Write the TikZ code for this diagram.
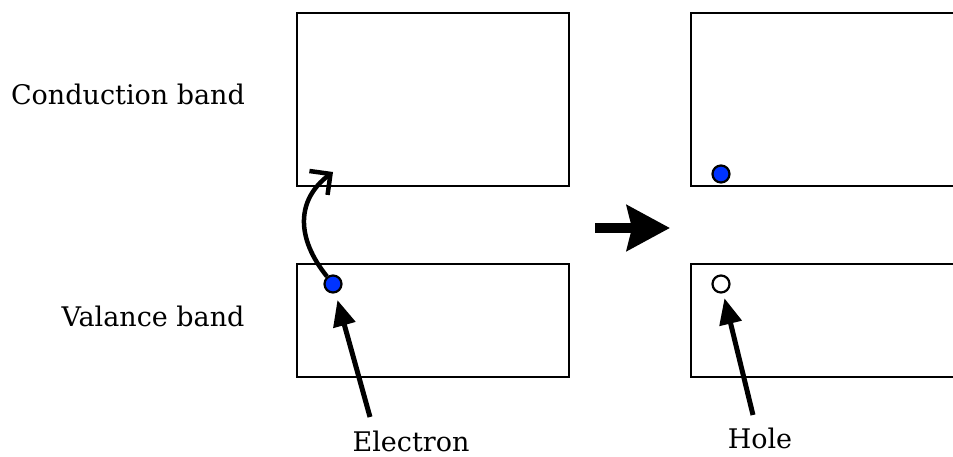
\documentclass[tikz,border=0pt]{standalone}
\usepackage{fontspec}
\setmainfont{DejaVu Serif}
\usetikzlibrary{arrows.meta}

\definecolor{electronblue}{RGB}{0,51,255}

\begin{document}
\begin{tikzpicture}[x=1pt,y=-1pt,
	band/.style={draw,line width=2.5pt},
	lbl/.style={font=\fontsize{27}{32}\selectfont,anchor=base,inner sep=1pt},
	carrier/.style={circle,draw,line width=2.2pt,minimum size=17pt,inner sep=0pt},
	ptr/.style={line width=5pt,-{Triangle[length=26pt,width=22pt]}}]

			\clip (0,0) rectangle (953,457);

			\draw [band] (297,13) rectangle (569,186);
			\draw [band] (297,264) rectangle (569,377);

			\draw [band] (691,13) rectangle (975,186);
			\draw [band] (691,264) rectangle (975,377);

			\node[lbl] (cb) at (128,105) {Conduction band};
			\node[lbl] (vb) at (153,326) {Valance band};

			\node[lbl] (el) at (411,451) {Electron};
			\node[lbl] (ho) at (760,448) {Hole};

			\node[carrier,fill=electronblue] (e1) at (333,284) {};
			\node[carrier,fill=electronblue] (e2) at (721,174) {};
			\node[carrier,fill=white] (h1) at (721,284) {};

			\coordinate (jump) at (333,172);
			\coordinate (etail) at (370,417);
			\coordinate (htail) at (753,415);
			\coordinate (ga) at (595,228);
			\coordinate (gb) at (670,228);

			\draw [line width=4.5pt,-{Straight Barb[length=15pt,width=30pt]}] (e1) .. controls (296,238) and (296,200) .. (jump);

			\draw [ptr,shorten >=7pt] (etail) -- (e1);
			\draw [ptr,shorten >=5pt] (htail) -- (h1);

			\draw [line width=10pt,-{Stealth[length=43pt,width=45pt,inset=5pt]}] (ga) -- (gb);

	\end{tikzpicture}
\end{document}
